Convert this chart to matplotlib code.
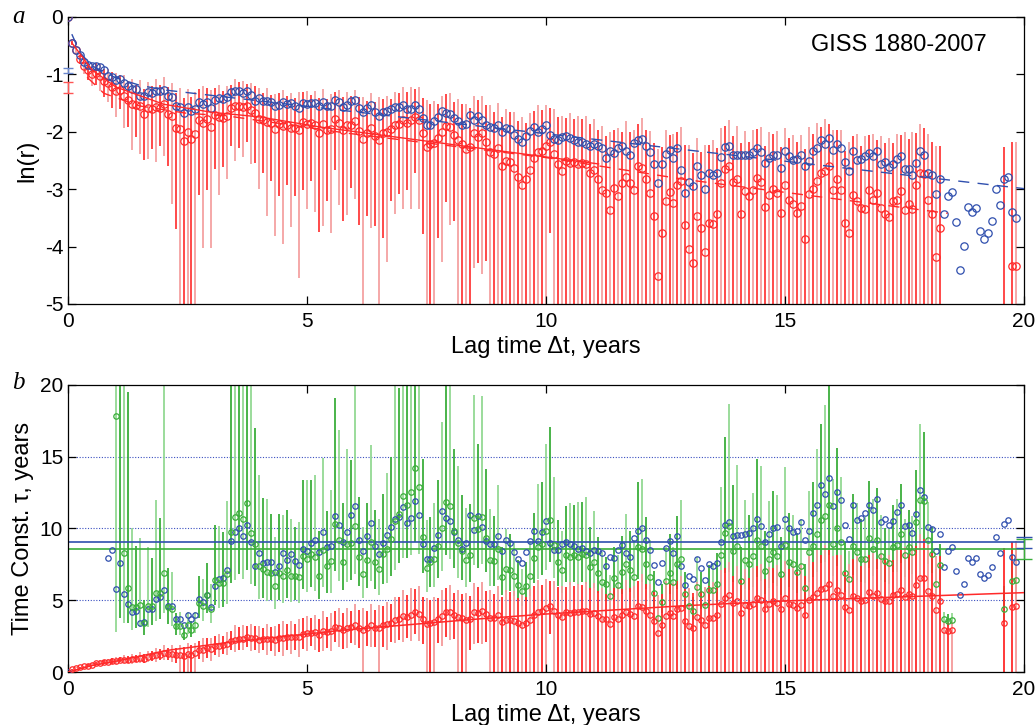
import numpy as np
import matplotlib
matplotlib.use('Agg')
import matplotlib.pyplot as plt

plt.rcParams['font.family'] = ['Liberation Sans', 'DejaVu Sans']
plt.rcParams['axes.unicode_minus'] = False

# ln(r) of the lag correlation, one value per month of lag (index / 12 = years)
ln_r_blue = [
    0.00, -0.45, -0.57, -0.67, -0.78, -0.83, -0.85, -0.86, -0.87, -0.92,
    -1.035, -1.038, -1.102, -1.073, -1.146, -1.194, -1.249, -1.262, -1.37, -1.385,
    -1.311, -1.33, -1.292, -1.295, -1.28, -1.381, -1.399, -1.543, -1.566, -1.667,
    -1.56, -1.634, -1.602, -1.473, -1.508, -1.473, -1.589, -1.445, -1.42, -1.428,
    -1.399, -1.304, -1.288, -1.288, -1.316, -1.296, -1.354, -1.46, -1.414, -1.469,
    -1.472, -1.483, -1.553, -1.528, -1.474, -1.518, -1.499, -1.544, -1.578, -1.505,
    -1.521, -1.497, -1.492, -1.559, -1.475, -1.553, -1.555, -1.444, -1.483, -1.563,
    -1.526, -1.47, -1.45, -1.59, -1.66, -1.59, -1.54, -1.66, -1.72, -1.66,
    -1.63, -1.60, -1.57, -1.57, -1.54, -1.61, -1.60, -1.54, -1.60, -1.76,
    -1.88, -1.89, -1.82, -1.74, -1.63, -1.67, -1.69, -1.76, -1.82, -1.89,
    -1.86, -1.70, -1.79, -1.72, -1.79, -1.89, -1.92, -1.93, -1.88, -2.01,
    -1.93, -1.96, -2.05, -2.13, -2.18, -2.08, -1.99, -1.92, -2.01, -1.95,
    -1.88, -2.05, -2.13, -2.14, -2.09, -2.08, -2.11, -2.14, -2.17, -2.17,
    -2.21, -2.25, -2.22, -2.24, -2.28, -2.46, -2.34, -2.37, -2.28, -2.24,
    -2.34, -2.40, -2.20, -2.14, -2.13, -2.24, -2.36, -2.57, -2.89, -2.57,
    -2.38, -2.31, -2.46, -2.28, -2.66, -3.06, -2.88, -2.94, -2.60, -2.75,
    -3.00, -2.72, -2.75, -2.72, -2.44, -2.27, -2.25, -2.40, -2.40, -2.40,
    -2.40, -2.40, -2.36, -2.28, -2.36, -2.54, -2.46, -2.40, -2.40, -2.63,
    -2.34, -2.43, -2.49, -2.48, -2.40, -2.60, -2.51, -2.34, -2.28, -2.14,
    -2.21, -2.11, -2.31, -2.21, -2.28, -2.52, -2.69, -2.34, -2.49, -2.48,
    -2.43, -2.37, -2.42, -2.33, -2.56, -2.53, -2.61, -2.57, -2.48, -2.43,
    -2.65, -2.65, -2.76, -2.54, -2.34, -2.40, -2.71, -2.75, -3.08, -2.83,
    -3.43, -3.12, -3.05, -3.57, -4.41, -3.99, -3.31, -3.39, -3.33, -3.73,
    -3.86, -3.77, -3.56, -3.00, -3.28, -2.83, -2.79, -3.40, -3.51,
]

nan = float('nan')
ln_r_red = [
    0.00, -0.45, -0.58, -0.74, -0.86, -0.93, -0.99, -0.98, -1.03, -1.12,
    -1.15, -1.22, -1.286, -1.27, -1.371, -1.444, -1.523, -1.541, -1.551, -1.696,
    -1.592, -1.61, -1.563, -1.579, -1.52, -1.688, -1.722, -1.933, -1.959, -2.16,
    -1.999, -2.121, -2.038, -1.803, -1.846, -1.775, -1.912, -1.712, -1.741, -1.754,
    -1.72, -1.579, -1.554, -1.553, -1.573, -1.548, -1.625, -1.67, -1.771, -1.797,
    -1.825, -1.846, -1.952, -1.87, -1.902, -1.875, -1.927, -1.939, -1.962, -1.837,
    -1.863, -1.85, -1.876, -2.014, -1.857, -1.962, -1.944, -1.772, -1.846, -1.977,
    -1.885, -1.89, -1.82, -1.99, -2.13, -2.03, -1.93, -2.07, -2.14, -2.03,
    -2.01, -1.96, -1.88, -1.86, -1.80, -1.84, -1.80, -1.74, -1.80, -2.02,
    -2.26, -2.22, -2.20, -2.11, -2.01, -1.90, -1.92, -2.05, -2.14, -2.21,
    -2.30, -2.26, -2.02, -2.09, -2.03, -2.17, -2.36, -2.38, -2.28, -2.60,
    -2.51, -2.53, -2.63, -2.78, -2.92, -2.83, -2.67, -2.46, -2.36, -2.34,
    -2.25, -2.18, -2.38, -2.57, -2.69, -2.51, -2.54, -2.53, -2.56, -2.54,
    -2.56, -2.72, -2.66, -2.83, -3.02, -3.07, -3.37, -2.98, -3.12, -2.90,
    -2.78, -2.89, -3.02, -2.60, -2.63, -2.83, -3.07, -3.46, -4.51, -3.76,
    -3.21, -3.05, -3.24, -2.92, -2.86, -3.62, -4.04, -4.29, -3.46, -3.68,
    -4.10, -3.59, -3.60, -3.44, -2.90, -2.65, -2.59, -2.88, -2.82, -3.44,
    -3.04, -3.12, -3.01, -2.80, -2.88, -3.31, -3.10, -3.00, -3.07, -3.41,
    -2.92, -3.19, -3.25, -3.41, -3.30, -3.87, -3.08, -3.00, -2.86, -2.72,
    -2.69, -2.60, -3.02, -2.83, -3.02, -3.59, -3.76, -3.10, -3.21, -3.33,
    -3.34, -3.02, -3.19, -3.07, -3.33, -3.44, -3.48, -3.21, -3.19, -3.04,
    -3.37, -3.25, -3.34, -2.93, -2.72, -2.73, -3.19, -3.43, -4.18, -3.68,
    -6.2, -6.4, -6.3, nan, nan, nan, nan, nan, nan, nan,
    nan, nan, nan, nan, nan, -5.69, nan, -4.34, -4.34,
]

# standard error of r for the red series (in r units)
sig_red = [
    0.00, 0.02, 0.03, 0.04, 0.05, 0.06, 0.07, 0.07, 0.08, 0.08, 0.09, 0.09,
    0.10, 0.08, 0.11, 0.09, 0.12, 0.09, 0.12, 0.10, 0.12, 0.10, 0.13, 0.10,
    0.13, 0.11, 0.14, 0.12, 0.15, 0.13, 0.15, 0.13, 0.14, 0.12, 0.14, 0.12,
    0.13, 0.11, 0.13, 0.10, 0.12, 0.10, 0.13, 0.11, 0.12, 0.10, 0.12, 0.11,
    0.12, 0.10, 0.13, 0.10, 0.12, 0.11, 0.13, 0.10, 0.12, 0.10, 0.13, 0.11,
    0.12, 0.10, 0.12, 0.11, 0.13, 0.10, 0.12, 0.10, 0.12, 0.11, 0.12, 0.10,
    0.12, 0.11, 0.13, 0.10, 0.12, 0.10, 0.13, 0.11, 0.12, 0.10, 0.12, 0.11,
    0.13, 0.11, 0.13, 0.11, 0.13, 0.11, 0.13, 0.11, 0.12, 0.10, 0.12, 0.11,
    0.12, 0.10, 0.12, 0.11, 0.12, 0.10, 0.12, 0.11, 0.12, 0.10, 0.12, 0.10,
    0.12, 0.10, 0.12, 0.11, 0.12, 0.10, 0.12, 0.10, 0.12, 0.11, 0.12, 0.10,
    0.11, 0.09, 0.11, 0.10, 0.11, 0.09, 0.11, 0.09, 0.10, 0.09, 0.10, 0.09,
    0.10, 0.08, 0.10, 0.08, 0.10, 0.09, 0.10, 0.08, 0.10, 0.08, 0.09, 0.08,
    0.10, 0.08, 0.09, 0.08, 0.09, 0.08, 0.10, 0.08, 0.09, 0.08, 0.09, 0.08,
    0.09, 0.08, 0.09, 0.07, 0.09, 0.08, 0.09, 0.07, 0.09, 0.08, 0.09, 0.07,
    0.09, 0.08, 0.09, 0.07, 0.09, 0.08, 0.09, 0.07, 0.09, 0.08, 0.09, 0.07,
    0.09, 0.08, 0.09, 0.08, 0.09, 0.08, 0.10, 0.08, 0.10, 0.08, 0.10, 0.08,
    0.09, 0.08, 0.09, 0.07, 0.09, 0.08, 0.09, 0.07, 0.09, 0.08, 0.09, 0.07,
    0.09, 0.08, 0.09, 0.07, 0.09, 0.08, 0.10, 0.08, 0.10, 0.08, 0.09, 0.08,
    0.09, 0.08, 0.09, 0.08, 0.003, 0.003, 0.003, nan, nan, nan, nan, nan,
    nan, nan, nan, nan, nan, nan, nan, 0.10, nan, 0.10, 0.10,
]

# error of ln(r) used for the green time constants
dlog_green = [
    0.10, 0.10, 0.10, 0.10, 0.10, 0.10, 0.10, 0.10, 0.10, 0.10, 0.10, 0.10,
    0.30, 0.25, 0.20, 0.15, 0.16, 0.15, 0.16, 0.15, 0.17, 0.16, 0.18, 0.17,
    0.20, 0.17, 0.18, 0.16, 0.17, 0.15, 0.17, 0.16, 0.17, 0.16, 0.18, 0.16,
    0.19, 0.18, 0.20, 0.19, 0.21, 0.20, 0.22, 0.20, 0.22, 0.21, 0.23, 0.21,
    0.25, 0.23, 0.25, 0.23, 0.26, 0.24, 0.26, 0.24, 0.26, 0.24, 0.27, 0.24,
    0.26, 0.24, 0.27, 0.25, 0.27, 0.25, 0.28, 0.25, 0.28, 0.26, 0.28, 0.26,
    0.29, 0.26, 0.29, 0.27, 0.30, 0.27, 0.30, 0.27, 0.30, 0.28, 0.31, 0.28,
    0.31, 0.28, 0.31, 0.29, 0.32, 0.29, 0.32, 0.29, 0.32, 0.30, 0.33, 0.30,
    0.33, 0.30, 0.34, 0.31, 0.34, 0.31, 0.35, 0.32, 0.35, 0.32, 0.35, 0.33,
    0.36, 0.33, 0.36, 0.34, 0.37, 0.34, 0.37, 0.35, 0.38, 0.35, 0.38, 0.36,
    0.39, 0.36, 0.40, 0.37, 0.41, 0.38, 0.42, 0.39, 0.43, 0.40, 0.44, 0.41,
    0.45, 0.42, 0.46, 0.43, 0.47, 0.44, 0.48, 0.45, 0.49, 0.46, 0.50, 0.47,
    0.51, 0.48, 0.52, 0.49, 0.53, 0.50, 0.54, 0.51, 0.55, 0.52, 0.56, 0.53,
    0.57, 0.54, 0.58, 0.55, 0.59, 0.56, 0.60, 0.57, 0.61, 0.58, 0.62, 0.58,
    0.62, 0.59, 0.63, 0.59, 0.63, 0.60, 0.64, 0.60, 0.64, 0.60, 0.64, 0.60,
    0.64, 0.60, 0.63, 0.60, 0.63, 0.59, 0.62, 0.59, 0.62, 0.58, 0.61, 0.58,
    0.60, 0.57, 0.60, 0.56, 0.59, 0.55, 0.58, 0.54, 0.57, 0.53, 0.56, 0.52,
    0.55, 0.51, 0.54, 0.50, 0.52, 0.48, 0.50, 0.46, 0.48, 0.44, 0.46, 0.43,
    0.44, 0.41, 0.42, 0.40, 0.60, 0.60, 0.60, nan, nan, nan, nan, nan,
    nan, nan, nan, nan, nan, nan, nan, 1.20, nan, 0.80, 0.80,
]

# intercepts of ln(r) at zero lag (marked on the left axis) and their errors
a_blue, a_blue_err = -0.93, 0.04
a_red, a_red_err = -1.23, 0.09

# fitted curves (vertices)
fit_blue_x = [0.08, 0.25, 0.5, 1.0, 1.5, 2.0, 20.0]
fit_blue_y = [-0.30, -0.62, -0.85, -1.06, -1.19, -1.27, -2.99]
fit_red_x = [0.08, 0.5, 1.0, 2.0, 3.0, 4.0, 5.3, 11.1]
fit_red_y = [-0.45, -0.92, -1.22, -1.52, -1.66, -1.74, -1.92, -2.56]
fit_red2_x = [0.4, 0.75, 1.5, 2.5, 3.3, 5.8, 10.0, 12.9, 18.4]
fit_red2_y = [-1.05, -1.33, -1.55, -1.68, -1.72, -2.02, -2.45, -2.83, -3.42]
tau_fit_x = [0, 0.5, 1, 2.06, 3.45, 5.8, 8.6, 10, 12.9, 15, 18, 20]
tau_fit_y = [0, 0.45, 0.75, 1.5, 2.1, 2.93, 3.7, 4.04, 4.62, 4.95, 5.3, 5.53]

# mean time constants (right axis) and their errors
tau_blue_mean, tau_blue_err = 9.04, 0.40
tau_green_mean, tau_green_err = 8.55, 0.70

BLUE = '#2f4fae'
RED = '#ff2a2a'
RED_L = '#f49a9a'
GREEN = '#3aae3a'
GREEN_L = '#93d993'


def style_axes(ax):
    ax.set_xlim(0, 20)
    ax.set_xticks([0, 5, 10, 15, 20])
    ax.tick_params(direction='in', length=6, width=0.9, top=True, right=True,
                   labelsize=15)
    ax.tick_params(axis='x', pad=5.5)
    ax.tick_params(axis='y', pad=3.5)
    for s in ax.spines.values():
        s.set_linewidth(0.9)
    ax.set_xlabel('Lag time \u0394t, years', fontsize=17)
    ax.xaxis.set_label_coords(0.5, -0.113)


def alt_vlines(ax, x, lo, hi, c1, c2, lw=1.2, z=1):
    ok = np.isfinite(lo) & np.isfinite(hi)
    idx = np.arange(len(x))
    for par, col in ((0, c2), (1, c1)):
        m = ok & (idx % 2 == par)
        ax.vlines(x[m], lo[m], hi[m], colors=col, lw=lw, zorder=z)


Lb = np.array(ln_r_blue, float)
Lr = np.array(ln_r_red, float)
sr = np.array(sig_red, float)
dg = np.array(dlog_green, float)
xb = np.arange(len(Lb)) / 12.0
xr = np.arange(len(Lr)) / 12.0

rr = np.exp(Lr)
with np.errstate(divide='ignore', invalid='ignore'):
    up_top = np.log(rr + sr)
    lo_top = np.where(rr - sr > 0, np.log(np.clip(rr - sr, 1e-12, None)), -10.0)

    # time constants
    tau_b = xb / (a_blue - Lb)
    tau_r = -xr / Lr
    tau_g = xr / (a_red - Lr)
    tau_r_hi = -xr / np.log(rr + sr)
    tau_r_lo = np.where(rr - sr > 0, -xr / np.log(np.clip(rr - sr, 1e-12, None)), 0.0)
    dd = a_red - Lr
    tau_g_lo = xr / (dd + dg)
    tau_g_hi = np.where(dd - dg > 0, xr / (dd - dg), 30.0)

tau_b[tau_b <= 0] = np.nan
tau_b[0] = 0.0
tau_r[0] = np.nan
tau_r_hi[0] = np.nan
tau_g[tau_g <= 0] = np.nan
bad_g = ~(dd > 0)
tau_g_lo[bad_g] = np.nan
tau_g_hi[bad_g] = np.nan
up_top[0] = np.nan

fig = plt.figure(figsize=(10.35, 7.25), dpi=100)
ax1 = fig.add_axes([0.0657, 0.5807, 0.9237, 0.3959])
ax2 = fig.add_axes([0.0657, 0.0731, 0.9237, 0.3959])

# ---- panel a ----
alt_vlines(ax1, xr, lo_top, up_top, RED, RED_L)
ax1.plot(xr, Lr, 'o', ms=5.3, mfc='none', mec=RED, mew=0.9, zorder=3)
ax1.plot(xb, Lb, 'o', ms=5.3, mfc='none', mec=BLUE, mew=0.9, zorder=4)
ax1.plot(fit_blue_x, fit_blue_y, color=BLUE, lw=1.0, dashes=(8, 6), zorder=5)
ax1.plot(fit_red_x, fit_red_y, color=RED, lw=1.0, zorder=5)
ax1.plot(fit_red2_x, fit_red2_y, color=RED, lw=1.0, dashes=(8, 6), zorder=5)
ax1.errorbar([0.0], [a_blue], yerr=[a_blue_err], color='#6a86cc', capsize=3.5,
             lw=1.0, capthick=1.0, clip_on=False, zorder=6)
ax1.errorbar([0.0], [a_red], yerr=[a_red_err], color='#ff5555', capsize=3.5,
             lw=1.0, capthick=1.0, clip_on=False, zorder=6)
ax1.set_ylim(-5, 0)
ax1.set_yticks([0, -1, -2, -3, -4, -5])
style_axes(ax1)
ax1.set_ylabel('ln(r)', fontsize=17)
ax1.yaxis.set_label_coords(-0.031, 0.5)
ax1.text(0.961, 0.902, 'GISS 1880-2007', transform=ax1.transAxes,
         ha='right', va='center', fontsize=17)

# ---- panel b ----
for yv in (5, 10, 15):
    ax2.axhline(yv, color='#3a4fc0', lw=0.8, ls=(0, (1, 1.5)), zorder=0)
ax2.axhline(tau_blue_mean, color=BLUE, lw=1.2, zorder=2)
ax2.axhline(tau_green_mean, color=GREEN, lw=1.2, zorder=2)
alt_vlines(ax2, xr, tau_g_lo, tau_g_hi, GREEN, GREEN_L, lw=1.3)
alt_vlines(ax2, xr, tau_r_lo, tau_r_hi, RED, RED_L, lw=1.3)
ax2.plot(tau_fit_x, tau_fit_y, color=RED, lw=1.1, zorder=3)
ax2.plot(xb, tau_b, 'o', ms=3.9, mfc='none', mec=BLUE, mew=0.9, zorder=4)
ax2.plot(xr, tau_g, 'o', ms=3.9, mfc='none', mec=GREEN, mew=0.9, zorder=4)
ax2.plot(xr, tau_r, 'o', ms=3.9, mfc='none', mec=RED, mew=0.9, zorder=4)
ax2.errorbar([20.0], [tau_blue_mean], yerr=[tau_blue_err], color=BLUE, capsize=5.5,
             lw=1.0, capthick=1.0, clip_on=False, zorder=6)
ax2.errorbar([20.0], [tau_green_mean], yerr=[tau_green_err], color=GREEN, capsize=5.5,
             lw=1.0, capthick=1.0, clip_on=False, zorder=6)
ax2.set_ylim(0, 20)
ax2.set_yticks([0, 5, 10, 15, 20])
style_axes(ax2)
ax2.set_ylabel('Time Const. \u03c4, years', fontsize=17)
ax2.yaxis.set_label_coords(-0.036, 0.5)

fig.text(0.012, 0.977, 'a', fontsize=18, style='italic', family='Liberation Serif',
         va='center')
fig.text(0.012, 0.472, 'b', fontsize=18, style='italic', family='Liberation Serif',
         va='center')

fig.savefig('out.png', dpi=100)
